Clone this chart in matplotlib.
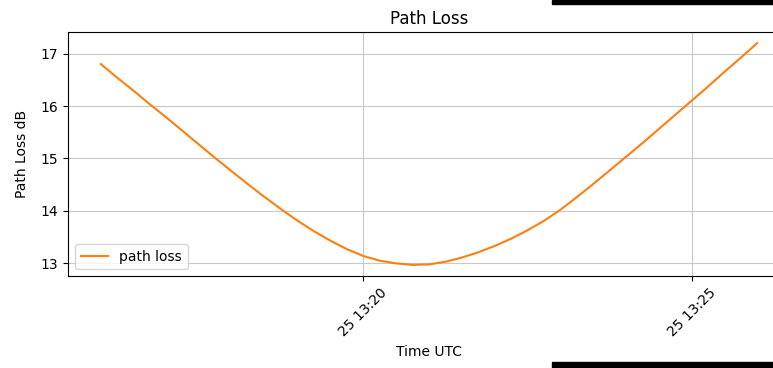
import datetime as dt
import matplotlib
matplotlib.use("Agg")
import matplotlib.pyplot as plt
import matplotlib.dates as mdates
from matplotlib.patches import Rectangle

# Data: path loss sampled every 15 s, 13:16 -> 13:26 UTC
start_time = dt.datetime(2023, 5, 25, 13, 16, 0)
step_seconds = 15
path_loss_db = [
    16.80, 16.54, 16.29, 16.03, 15.78, 15.52, 15.26, 15.00, 14.75, 14.50,
    14.26, 14.03, 13.81, 13.61, 13.43, 13.27, 13.14, 13.05, 13.00, 12.97,
    12.98, 13.03, 13.11, 13.21, 13.33, 13.47, 13.63, 13.81, 14.02, 14.26,
    14.51, 14.77, 15.03, 15.29, 15.56, 15.83, 16.10, 16.37, 16.65, 16.92,
    17.20,
]
times = [start_time + dt.timedelta(seconds=step_seconds * i) for i in range(len(path_loss_db))]

fig = plt.figure(figsize=(7.73, 3.68), dpi=100)
ax = fig.add_axes([68 / 773, 1 - 276 / 368, (790 - 68) / 773, (276 - 32) / 368])

ax.plot(times, path_loss_db, color="#ff7f0e", label="path loss")
ax.set_title("Path Loss")
ax.set_xlabel("Time UTC")
ax.set_ylabel("Path Loss dB", labelpad=8)
ax.grid(True, color="#c8c8c8")
ax.legend(loc="lower left")

ax.xaxis.set_major_locator(mdates.MinuteLocator(byminute=range(0, 60, 5)))
ax.xaxis.set_major_formatter(mdates.DateFormatter("%d %H:%M"))
plt.setp(ax.get_xticklabels(), rotation=45)

# screenshot artifacts at the right edge
fig.patches.append(Rectangle((552 / 773, 1 - 4 / 368), 221 / 773, 4 / 368,
                             transform=fig.transFigure, color="black", zorder=10))
fig.patches.append(Rectangle((552 / 773, 0), 221 / 773, 6 / 368,
                             transform=fig.transFigure, color="black", zorder=10))

fig.savefig("out.png", dpi=100)
